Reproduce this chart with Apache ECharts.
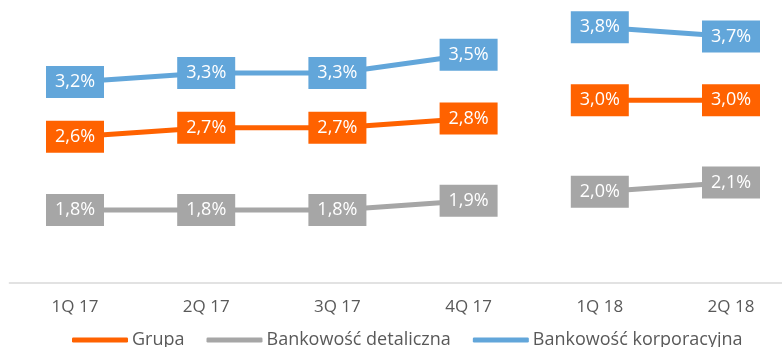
<!DOCTYPE html>
<html>
<head>
<meta charset="utf-8">
<script src="https://cdn.jsdelivr.net/npm/echarts@6/dist/echarts.min.js"></script>
<style>
  html, body { margin: 0; padding: 0; background: #ffffff; }
  #chart { width: 782px; height: 347px; }
</style>
</head>
<body>
<div id="chart"></div>
<script>
// Quarters on the category axis
const categories = ['1Q 17', '2Q 17', '3Q 17', '4Q 17', '1Q 18', '2Q 18'];

// Margin levels (%) per segment
const grupa = [2.6, 2.7, 2.7, 2.8, 3.0, 3.0];
const detaliczna = [1.8, 1.8, 1.8, 1.9, 2.0, 2.1];
const korporacyjna = [3.2, 3.3, 3.3, 3.5, 3.8, 3.7];

// Series names and colours
const seriesNames = ['Grupa', 'Bankowość detaliczna', 'Bankowość korporacyjna'];
const seriesColors = ['#FF6200', '#A6A6A6', '#62A6DA'];

// The 2017 and 2018 points are drawn as separate line segments
const split2017 = [0, 1, 2, 3];
const split2018 = [4, 5];

const FONT = '"Open Sans", "Noto Sans", sans-serif';

function segment(values, keep) {
  return values.map((v, i) => (keep.indexOf(i) >= 0 ? v : null));
}

function makeSeries(name, color, values) {
  const base = {
    name: name,
    type: 'line',
    connectNulls: false,
    symbol: 'rect',
    symbolSize: [58, 32],
    itemStyle: { color: color },
    lineStyle: { color: color, width: 5 },
    label: {
      show: true,
      position: 'inside',
      color: '#ffffff',
      fontFamily: FONT,
      fontSize: 18,
      formatter: p => p.value.toFixed(1).replace('.', ',') + '%'
    },
    emphasis: { disabled: true },
    animation: false
  };
  return [
    Object.assign({}, base, { data: segment(values, split2017) }),
    Object.assign({}, base, { data: segment(values, split2018) })
  ];
}

const allValues = [grupa, detaliczna, korporacyjna];
const series = [];
// gray first so the coloured lines sit above it
[1, 0, 2].forEach(i => {
  series.push(...makeSeries(seriesNames[i], seriesColors[i], allValues[i]));
});

const chart = echarts.init(document.getElementById('chart'), null, { renderer: 'canvas' });
chart.setOption({
  backgroundColor: '#ffffff',
  animation: false,
  // the plot runs past the right edge of the canvas
  grid: { left: 9.4, right: -14.6, top: 9, bottom: 64, containLabel: false, outerBoundsMode: 'none' },
  xAxis: {
    type: 'category',
    data: categories,
    boundaryGap: true,
    axisLine: { lineStyle: { color: '#D9D9D9', width: 1.5 } },
    axisTick: { show: false },
    axisLabel: { color: '#595959', fontFamily: FONT, fontSize: 17, margin: 16 }
  },
  yAxis: {
    type: 'value',
    min: 1,
    max: 4,
    show: false
  },
  legend: {
    left: 67,
    top: 326,
    icon: 'roundRect',
    itemWidth: 56,
    itemHeight: 5,
    itemGap: 22,
    textStyle: { color: '#595959', fontFamily: FONT, fontSize: 18, padding: [0, 0, 0, -1] },
    data: seriesNames.map((n, i) => ({ name: n, itemStyle: { color: seriesColors[i] } }))
  },
  series: series
});
</script>
</body>
</html>
